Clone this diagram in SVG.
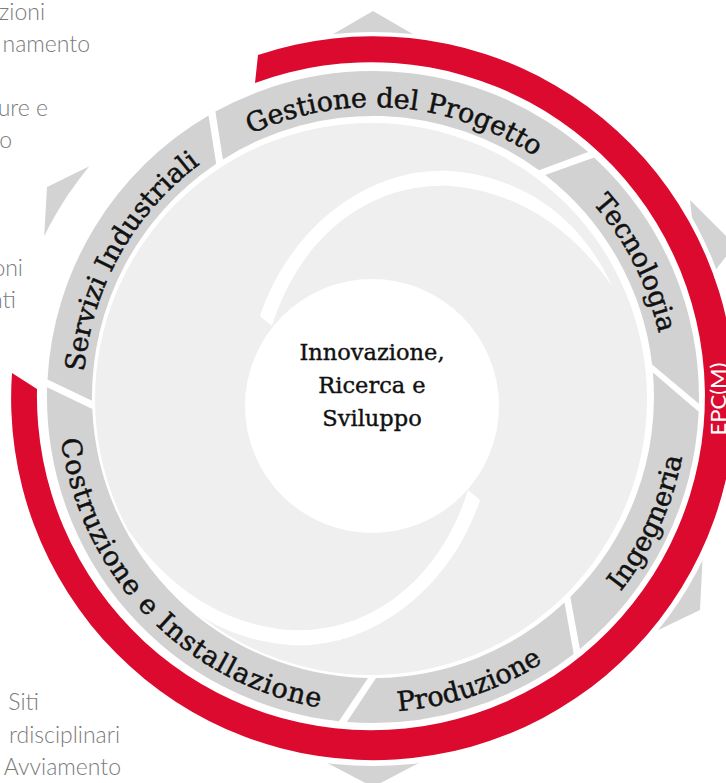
<svg xmlns="http://www.w3.org/2000/svg" width="726" height="783" viewBox="0 0 726 783">
<style>
.tip{fill:#d3d3d3}
.seg{fill:#d2d2d2}
.lbl{font-family:"DejaVu Serif","Liberation Serif",serif;font-size:27px;fill:#111;stroke:#111;stroke-width:0.5}
.side{font-family:Lato,"Open Sans",sans-serif;font-weight:300;font-size:23px;fill:#7b7b7b}
.ctr{font-family:"DejaVu Serif","Liberation Serif",serif;font-size:22.5px;fill:#111;stroke:#111;stroke-width:0.4;text-anchor:middle}
</style>
<defs>
<path id="pGes" d="M92.3 324.4 A290 290 0 0 1 661.7 369.2"/>
<path id="pTec" d="M287.3 116.9 A293 293 0 0 1 549.3 631.0"/>
<path id="pSer" d="M189.7 621.7 A290 290 0 0 1 468.4 123.1"/>
<path id="pIng" d="M293.6 701.8 A315 315 0 0 0 551.9 137.7"/>
<path id="pPro" d="M96.4 547.8 A315 315 0 0 0 684.5 349.9"/>
<path id="pCos" d="M117.9 212.3 A315 315 0 0 0 549.6 657.9"/>
</defs>
<rect width="726" height="783" fill="#fff"/>
<g id="tips">
<polygon class="tip" points="373,11 323,40 423,40"/>
<polygon class="tip" points="47,187 94,164 44,240"/>
<polygon class="tip" points="700,610 703,550 650,634"/>
<polygon class="tip" points="373,787 310,754 436,754"/>
<polygon class="tip" points="735,245 690,200 700,290"/>
<circle cx="373" cy="399" r="367" fill="#fff"/>
</g>
<g id="epcm">
<path d="M258 55 A362 362 0 1 1 12 373 L37 389 A334 334 0 1 0 255 83 Z" fill="#dc0a2f"/>
<text transform="translate(726,399) rotate(-90)" text-anchor="middle" font-family="Lato,'Open Sans',sans-serif" font-size="22" fill="#fff">EPC(M)</text>
</g>
<g id="core">
<circle cx="371" cy="399" r="276" fill="#efefef"/>
<circle cx="372" cy="406" r="127" fill="#fff"/>
<path d="M480 500 C450 590 370 650 290 645 C220 640 160 600 128 530 C170 590 225 625 290 630 C370 634 440 580 468 490 Z" fill="#fff"/>
<path d="M260 316 C290 226 370 166 450 171 C520 176 580 216 612 286 C570 226 515 191 450 186 C370 182 300 236 272 326 Z" fill="#fff"/>
<text class="ctr" x="372" y="360">Innovazione,</text>
<text class="ctr" x="372" y="393">Ricerca e</text>
<text class="ctr" x="372" y="426">Sviluppo</text>
</g>
<g id="servizi">
<path class="seg" d="M47.5 379.4 A326 326 0 0 1 208.5 115.5 L216.2 163.8 A281 281 0 0 0 92.0 400.8 Z"/>
<text class="lbl"><textPath href="#pSer" startOffset="50%" text-anchor="middle">Servizi Industriali</textPath></text>
</g>
<g id="gestione">
<path class="seg" d="M215.4 111.6 A326 326 0 0 1 588.2 152.1 L539.0 170.2 A281 281 0 0 0 222.9 159.4 Z"/>
<text class="lbl"><textPath href="#pGes" startOffset="50%" text-anchor="middle">Gestione del Progetto</textPath></text>
</g>
<g id="tecnologia">
<path class="seg" d="M594.1 157.4 A326 326 0 0 1 698.9 403.8 L652.1 364.6 A281 281 0 0 0 545.2 175.0 Z"/>
<text class="lbl"><textPath href="#pTec" startOffset="50%" text-anchor="middle">Tecnologia</textPath></text>
</g>
<g id="ingegneria">
<path class="seg" d="M698.7 411.8 A326 326 0 0 1 579.9 648.9 L570.3 597.0 A281 281 0 0 0 652.9 372.6 Z"/>
<text class="lbl"><textPath href="#pIng" startOffset="50%" text-anchor="middle">Ingegneria</textPath></text>
</g>
<g id="produzione">
<path class="seg" d="M573.7 653.9 A326 326 0 0 1 346.9 722.0 L376.0 678.0 A281 281 0 0 0 564.5 602.6 Z"/>
<text class="lbl"><textPath href="#pPro" startOffset="50%" text-anchor="middle">Produzione</textPath></text>
</g>
<g id="costruzione">
<path class="seg" d="M338.9 721.2 A326 326 0 0 1 47.1 387.3 L92.3 408.9 A281 281 0 0 0 368.0 678.0 Z"/>
<text class="lbl" letter-spacing="1"><textPath href="#pCos" startOffset="50%" text-anchor="middle">Costruzione e Installazione</textPath></text>
</g>
<g id="side-texts" class="side">
<text x="45" y="20" text-anchor="end">zioni</text>
<text x="90" y="52" text-anchor="end">namento</text>
<text x="48" y="116" text-anchor="end">ure e</text>
<text x="12" y="148" text-anchor="end">o</text>
<text x="23" y="276" text-anchor="end">oni</text>
<text x="16" y="308" text-anchor="end">nti</text>
<text x="39" y="710" text-anchor="end">Siti</text>
<text x="120" y="743" text-anchor="end">rdisciplinari</text>
<text x="121" y="775" text-anchor="end">Avviamento</text>
</g>
<g id="connectors"/>
</svg>
